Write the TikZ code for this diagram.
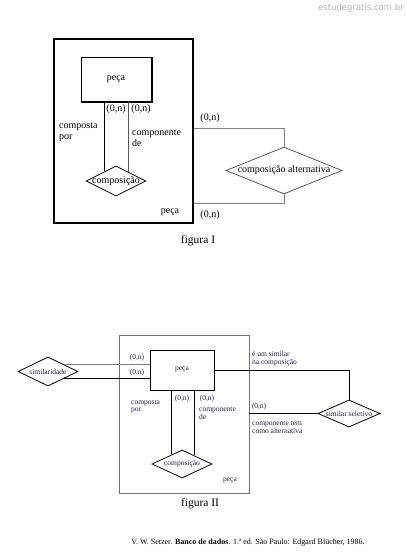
\documentclass[tikz,border=0pt]{standalone}
\usepackage{fontspec}
\setmainfont{Liberation Serif}
\newfontfamily\wmfont{DejaVu Sans}
\usetikzlibrary{shapes.geometric}
\definecolor{navy}{RGB}{30,30,75}
\begin{document}
\begin{tikzpicture}[x=1pt,y=-1pt,
  rel/.style={draw, shape=diamond, inner sep=0pt, line width=0.8pt},
  ent/.style={draw, rectangle, inner sep=0pt},
  lbl/.style={inner sep=0pt, font=\fontsize{10}{11}\selectfont},
  lblii/.style={inner sep=0pt, text=navy, font=\fontsize{7.5}{7.5}\selectfont},
  conn/.style={line width=0.9pt},
  gconn/.style={line width=0.8pt, black!50}]
\useasboundingbox (0,0) rectangle (407,557);

% watermark
\node[anchor=east, inner sep=0pt, text=black!30, font=\wmfont\fontsize{8.5}{9}\selectfont] (wm) at (404,8) {estudegratis.com.br};

% ---------- figura I ----------
\node[draw, line width=1.5pt, minimum width=139pt, minimum height=184pt, inner sep=0pt] (box1) at (123.5,131) {};
\node[ent, line width=1pt, minimum width=70pt, minimum height=44pt, lbl] (peca1) at (116,79) {peça};
\draw[line width=2pt] (peca1.north east) -- (peca1.south east) -- (peca1.south west);
\node[rel, minimum width=60pt, minimum height=30pt, label={[lbl]center:composição}] (comp1) at (116,181) {};
\node[rel, gray!70!black, minimum width=116pt, minimum height=47pt, label={[lbl]center:composição alternativa}] (alt1) at (284,170.5) {};

\draw[conn] (comp1.139 |- peca1.south) -- (comp1.139);
\draw[conn, black!65] (comp1.37 |- peca1.south) -- (comp1.37);
\draw[gconn] (box1.east |- 0,128) -| (alt1.north);
\draw[gconn] (box1.east |- 0,203) -| (alt1.south);

\node[lbl] (n1) at (116,109) {(0,n)};
\node[lbl] (n2) at (141,109) {(0,n)};
\node[lbl, align=left, anchor=west] (cp1) at (59,132.5) {composta\\por};
\node[lbl, align=left, anchor=west] (cd1) at (132,138) {componente\\de};
\node[lbl] (pl1) at (170,212) {peça};
\node[lbl] (n3) at (210,118) {(0,n)};
\node[lbl] (n4) at (210,215) {(0,n)};
\node[inner sep=0pt, font=\fontsize{11.5}{12}\selectfont] (f1) at (198,241) {figura I};

% ---------- figura II ----------
\node[draw, black!55, line width=0.8pt, minimum width=130pt, minimum height=158pt, inner sep=0pt] (box2) at (184,414) {};
\node[ent, line width=0.8pt, minimum width=64pt, minimum height=40pt, lblii] (peca2) at (182,370) {peça};
\node[rel, minimum width=60pt, minimum height=29pt, label={[lblii]center:similaridade}] (sim) at (48,371.5) {};
\node[rel, minimum width=60pt, minimum height=28pt, label={[lblii]center:composição}] (comp2) at (182,464) {};
\node[rel, minimum width=62pt, minimum height=27pt, label={[lblii]center:similar seletivo}] (sel) at (349,413.5) {};

\draw[gconn] (sim.24) -- (sim.24 -| peca2.west);
\draw[conn] (sim.-24) -- (sim.-24 -| peca2.west);
\draw[conn] (comp2.137 |- peca2.south) -- (comp2.137);
\draw[conn] (comp2.35 |- peca2.south) -- (comp2.35);
\draw[conn] (peca2.east) -| (sel.north);
\draw[conn] (box2.east |- sel.west) -- (sel.west);

\node[lblii] (m1) at (137,358) {(0,n)};
\node[lblii] (m2) at (137,373) {(0,n)};
\node[lblii] (m3) at (182,399) {(0,n)};
\node[lblii] (m4) at (207,399) {(0,n)};
\node[lblii] (m5) at (259,407) {(0,n)};
\node[lblii, align=left, anchor=west] (cp2) at (131,406.5) {composta\\por};
\node[lblii, align=left, anchor=west] (cd2) at (199,413.5) {componente\\de};
\node[lblii] (pl2) at (230,481) {peça};
\node[lblii, align=left, anchor=west] (es) at (252,358.5) {é um similar\\na composição};
\node[lblii, align=left, anchor=west] (ct) at (252,427.5) {componente tem\\como alternativa};
\node[inner sep=0pt, font=\fontsize{11.5}{12}\selectfont] (f2) at (200,504) {figura II};

% citation
\node[inner sep=0pt, font=\fontsize{8}{9}\selectfont] (cit) at (248,543) {V. W. Setzer. \textbf{Banco de dados}. 1.ª ed. São Paulo: Edgard Blücher, 1986.};
\end{tikzpicture}
\end{document}
